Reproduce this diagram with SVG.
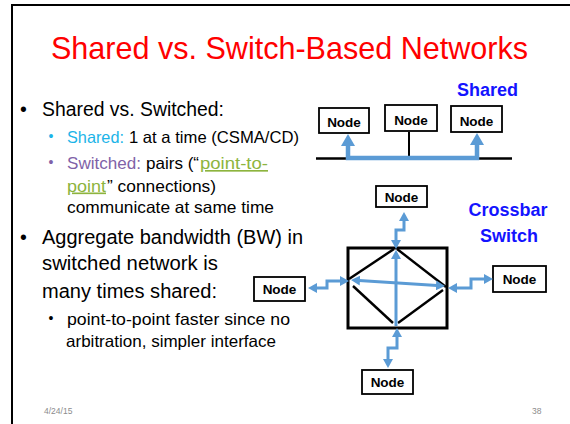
<svg xmlns="http://www.w3.org/2000/svg" width="570" height="424" viewBox="0 0 570 424">
  <style>
    .t { font-family: "Liberation Sans", Arial, sans-serif; fill: #000; }
    .main { font-size: 19.5px; }
    .sub { font-size: 16.5px; }
    .node rect { fill: #fff; stroke: #000; stroke-width: 1.8; }
    .node text { font-family: "Liberation Sans", Arial, sans-serif; font-weight: bold; font-size: 13.5px; text-anchor: middle; fill: #000; }
    .label { font-family: "Liberation Sans", Arial, sans-serif; font-weight: bold; font-size: 18px; fill: #1414FF; text-anchor: middle; }
    .wire { fill: none; stroke: #000; }
    .link { fill: none; stroke: #5B9BD5; stroke-linejoin: miter; }
    .foot { font-family: "Liberation Sans", Arial, sans-serif; font-size: 8.5px; fill: #8C8C8C; }
  </style>
  <defs>
    <marker id="headL" viewBox="0 0 12 14" refX="1" refY="7" markerWidth="12" markerHeight="14" markerUnits="userSpaceOnUse" orient="auto-start-reverse">
      <path d="M0,0 L12,7 L0,14 z" fill="#5B9BD5"/>
    </marker>
    <marker id="headS" viewBox="0 0 9 10" refX="1" refY="5" markerWidth="9" markerHeight="10" markerUnits="userSpaceOnUse" orient="auto-start-reverse">
      <path d="M0,0 L9,5 L0,10 z" fill="#5B9BD5"/>
    </marker>
  </defs>

  <rect width="570" height="424" fill="#fff"/>
  <!-- slide frame -->
  <path d="M12,424 V5 H570" fill="none" stroke="#000" stroke-width="2"/>

  <!-- title -->
  <text x="51" y="58.5" font-family="Liberation Sans, Arial, sans-serif" font-size="31.5" fill="#FF0000" textLength="477" lengthAdjust="spacingAndGlyphs">Shared vs. Switch-Based Networks</text>

  <!-- bullet text -->
  <g class="t">
    <text class="main" x="20" y="115.5">•</text>
    <text class="main" x="42" y="115.5" textLength="182" lengthAdjust="spacingAndGlyphs">Shared vs. Switched:</text>

    <text x="48.5" y="141" font-size="14" fill="#1CB4E8">•</text>
    <text class="sub" y="143"><tspan x="67" fill="#1CB4E8" textLength="57" lengthAdjust="spacingAndGlyphs">Shared:</tspan><tspan x="129" textLength="170" lengthAdjust="spacingAndGlyphs">1 at a time (CSMA/CD)</tspan></text>

    <text x="48.5" y="167" font-size="14" fill="#7F62A8">•</text>
    <text class="sub" y="169"><tspan x="67" fill="#7F62A8" textLength="74" lengthAdjust="spacingAndGlyphs">Switched:</tspan><tspan x="146" textLength="53" lengthAdjust="spacingAndGlyphs">pairs (“</tspan><tspan x="200" fill="#8DB43E" text-decoration="underline" textLength="68" lengthAdjust="spacingAndGlyphs">point-to-</tspan></text>
    <text class="sub" y="191.5"><tspan x="67" fill="#8DB43E" text-decoration="underline" textLength="39" lengthAdjust="spacingAndGlyphs">point</tspan><tspan x="107" textLength="109" lengthAdjust="spacingAndGlyphs">” connections)</tspan></text>
    <text class="sub" x="67" y="213" textLength="207" lengthAdjust="spacingAndGlyphs">communicate at same time</text>

    <text class="main" x="20" y="244">•</text>
    <text class="main" x="42" y="244" textLength="261" lengthAdjust="spacingAndGlyphs">Aggregate bandwidth (BW) in</text>
    <text class="main" x="42" y="270" textLength="176" lengthAdjust="spacingAndGlyphs">switched network is</text>
    <text class="main" x="42" y="298" textLength="175" lengthAdjust="spacingAndGlyphs">many times shared:</text>

    <text x="48.5" y="323" font-size="14">•</text>
    <text class="sub" x="67" y="325" textLength="223" lengthAdjust="spacingAndGlyphs">point-to-point faster since no</text>
    <text class="sub" x="66" y="347" textLength="210" lengthAdjust="spacingAndGlyphs">arbitration, simpler interface</text>
  </g>

  <!-- diagram labels -->
  <text class="label" x="487.5" y="96">Shared</text>
  <text class="label" x="508" y="216">Crossbar</text>
  <text class="label" x="509" y="242">Switch</text>

  <!-- shared bus and crossbar fabric -->
  <g id="bus">
    <line class="wire" x1="316" y1="158.5" x2="512" y2="158.5" stroke-width="2.6"/>
    <line class="wire" x1="409" y1="132" x2="409" y2="158" stroke-width="2"/>
  </g>
  <g id="crossbar">
    <rect x="348" y="248" width="99" height="80" fill="none" stroke="#000" stroke-width="3"/>
    <g class="wire" stroke-width="2.4">
      <line x1="349" y1="279" x2="394" y2="249"/>
      <line x1="397" y1="249" x2="446" y2="287"/>
      <line x1="353" y1="286" x2="393" y2="323"/>
      <line x1="398" y1="323" x2="443" y2="290"/>
    </g>
  </g>

  <!-- nodes -->
  <g id="shared-node-1" class="node"><rect x="319" y="108" width="50" height="25"/><text x="344" y="127">Node</text></g>
  <g id="shared-node-2" class="node"><rect x="385" y="105" width="52" height="26"/><text x="411" y="125">Node</text></g>
  <g id="shared-node-3" class="node"><rect x="451" y="106" width="51" height="26"/><text x="476.5" y="125.5">Node</text></g>
  <g id="switch-node-top" class="node"><rect x="376" y="186" width="51" height="21"/><text x="401.5" y="201.5">Node</text></g>
  <g id="switch-node-left" class="node"><rect x="254" y="277" width="51" height="24"/><text x="279.5" y="294">Node</text></g>
  <g id="switch-node-right" class="node"><rect x="493" y="266" width="53" height="26"/><text x="519.5" y="284">Node</text></g>
  <g id="switch-node-bottom" class="node"><rect x="362" y="370" width="51" height="24"/><text x="387.5" y="387">Node</text></g>

  <!-- connectors -->
  <g id="connectors">
    <path class="link" stroke-width="4.5" d="M348,145 V158 H477 V144" marker-start="url(#headL)" marker-end="url(#headL)"/>
    <path class="link" stroke-width="3" d="M404,220 V230 H396 V241" marker-start="url(#headS)" marker-end="url(#headS)"/>
    <path class="link" stroke-width="3" d="M316,288 H327 V281 H341" marker-start="url(#headS)" marker-end="url(#headS)"/>
    <path class="link" stroke-width="3" d="M456,288 H471 V279 H485" marker-start="url(#headS)" marker-end="url(#headS)"/>
    <path class="link" stroke-width="3" d="M397,336 V348 H388 V360" marker-start="url(#headS)" marker-end="url(#headS)"/>
    <path class="link" stroke-width="3" d="M396,326 V258" marker-end="url(#headS)"/>
    <path class="link" stroke-width="3" d="M359,280.5 L437,285.5" marker-start="url(#headS)" marker-end="url(#headS)"/>
  </g>

  <!-- footer -->
  <text class="foot" x="44" y="414">4/24/15</text>
  <text class="foot" x="532" y="414">38</text>
</svg>
